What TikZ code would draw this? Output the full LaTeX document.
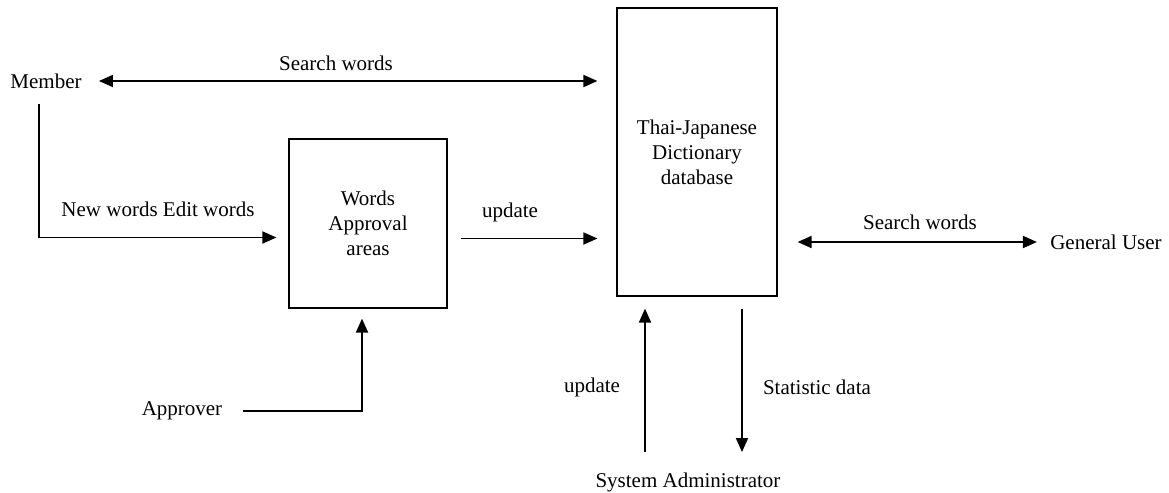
\documentclass[tikz,border=0pt]{standalone}
\usepackage{fontspec}
\setmainfont{Liberation Serif}
\usetikzlibrary{arrows.meta}

\tikzset{
  lbl/.style={font=\fontsize{10.5}{12.5}\selectfont, inner sep=0pt},
  store/.style={draw, line width=0.6pt, align=center, inner sep=0pt,
    font=\fontsize{10.5}{12.5}\selectfont},
  flow/.style={line width=0.9pt, -{Triangle[length=7pt,width=6pt]}},
  biflow/.style={line width=0.9pt, {Triangle[length=7pt,width=6pt]}-{Triangle[length=7pt,width=6pt]}},
}

\begin{document}
\begin{tikzpicture}[x=0.5pt, y=-0.5pt]
  \useasboundingbox (0,0) rectangle (1169,493);

  %% 外部の利用者
  \node[lbl] (member)   at (46,81)   {Member};
  \node[lbl] (approver) at (182,411) {Approver};
  \node[lbl] (user)     at (1106,242) {General User};
  \node[lbl] (admin)    at (688,482) {System Administrator};

  %% 処理とデータベース
  \node[store, minimum width=79pt, minimum height=84.5pt] (appr) at (368,223.5)
    {Words\\Approval\\areas};
  \node[store, minimum width=80pt, minimum height=144pt] (db) at (697,152)
    {Thai-Japanese\\Dictionary\\database};

  %% 接続点
  \coordinate (memberfoot) at ([shift={(-7,15)}]member.south);
  \coordinate (apprin)  at ([yshift=-7pt]appr.west);
  \coordinate (approut) at ([yshift=-7.5pt]appr.east);
  \coordinate (upfoot)   at ([xshift=-21.5pt]admin.north);
  \coordinate (downfoot) at ([xshift=27pt]admin.north);

  %% 流れ
  \draw[biflow, shorten <=8.5pt, shorten >=9.5pt] (member.east) -- (db.west |- member.east);
  \draw[flow, shorten >=6pt] (memberfoot) |- (apprin);
  \draw[flow, shorten <=6.5pt, shorten >=9.5pt] (approut) -- (approut -| db.west);
  \draw[flow, shorten <=10pt, shorten >=5pt] (approver.east) -| ([xshift=-3pt]appr.south);
  \draw[flow, shorten <=10pt, shorten >=6pt] (upfoot) -- (upfoot |- db.south);
  \draw[flow, shorten <=6pt, shorten >=10pt] (downfoot |- db.south) -- (downfoot);
  \draw[biflow, shorten <=10pt, shorten >=6.5pt] (user.west -| db.east) -- (user.west);

  %% ラベル
  \node[lbl] (lsearch)  at (336,63)  {Search words};
  \node[lbl] (lnew)     at (158,209) {New words Edit words};
  \node[lbl] (lupd)     at (510,212) {update};
  \node[lbl] (lsearch2) at (920,222) {Search words};
  \node[lbl] (lupd2)    at (592,387) {update};
  \node[lbl] (lstat)    at (817,387) {Statistic data};
\end{tikzpicture}
\end{document}
